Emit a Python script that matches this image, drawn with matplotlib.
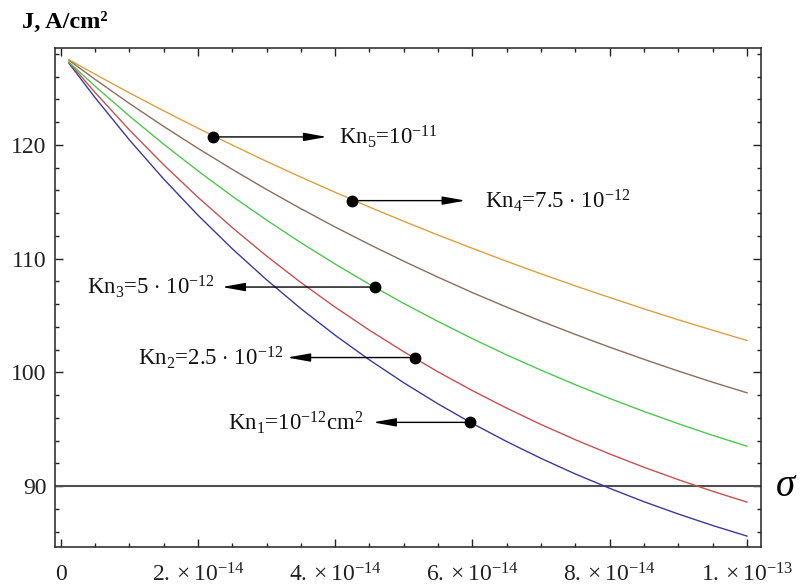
import matplotlib
matplotlib.use("Agg")
import matplotlib.pyplot as plt
from matplotlib.ticker import MultipleLocator

plt.rcParams['font.family'] = ['Liberation Serif', 'DejaVu Serif']
plt.rcParams['mathtext.fontset'] = 'custom'
plt.rcParams['mathtext.rm'] = 'Liberation Serif'
plt.rcParams['mathtext.it'] = 'Liberation Serif:italic'
plt.rcParams['mathtext.bf'] = 'Liberation Serif:bold'

# sigma values in units of 1e-14
sigma = [0.12, 0.5, 1.0, 1.5, 2.0, 2.5, 3.0, 3.5, 4.0, 4.5, 5.0,
         5.5, 6.0, 6.5, 7.0, 7.5, 8.0, 8.5, 9.0, 9.5, 10.0]

J_kn5 = [127.50, 126.22, 124.58, 123.00, 121.47, 119.99, 118.55, 117.17, 115.83, 114.53, 113.28,
         112.07, 110.90, 109.76, 108.66, 107.60, 106.58, 105.58, 104.62, 103.70, 102.80]
J_kn4 = [127.45, 125.77, 123.65, 121.63, 119.70, 117.85, 116.08, 114.39, 112.78, 111.24, 109.77,
         108.36, 107.01, 105.73, 104.50, 103.33, 102.21, 101.14, 100.11, 99.13, 98.20]
J_kn3 = [127.27, 125.17, 122.55, 120.07, 117.72, 115.49, 113.39, 111.40, 109.52, 107.74, 106.06,
         104.47, 102.96, 101.53, 100.19, 98.91, 97.70, 96.56, 95.48, 94.46, 93.50]
J_kn2 = [127.27, 124.62, 121.33, 118.26, 115.40, 112.73, 110.23, 107.90, 105.73, 103.70, 101.81,
         100.04, 98.39, 96.85, 95.41, 94.07, 92.82, 91.65, 90.56, 89.54, 88.59]
J_kn1 = [127.19, 124.17, 120.45, 117.01, 113.82, 110.87, 108.14, 105.60, 103.26, 101.09, 99.08,
         97.22, 95.50, 93.91, 92.43, 91.06, 89.80, 88.62, 87.54, 86.53, 85.60]

curve_colors = ['#3a3a9c', '#c85050', '#4cc84c', '#8c6e5a', '#dca040']

# annotation points (sigma in 1e-14, J) and label text positions (sigma in 1e-14)
dot_sigma = [5.97, 5.16, 4.58, 4.25, 2.22]
dot_J = [95.6, 101.3, 107.5, 115.1, 120.7]
head_sigma = [4.55, 3.30, 2.35, 5.90, 3.88]
label_sigma = [4.42, 3.24, 2.25, 6.18, 4.05]
label_text = [r"Kn$_1$=10$^{-12}$cm$^2$",
              r"Kn$_2$=2.5 $\cdot$ 10$^{-12}$",
              r"Kn$_3$=5 $\cdot$ 10$^{-12}$",
              r"Kn$_4$=7.5 $\cdot$ 10$^{-12}$",
              r"Kn$_5$=10$^{-11}$"]
label_ha = ['right', 'right', 'right', 'left', 'left']

xtick_vals = [0, 2, 4, 6, 8, 10]
xtick_labels = ["0", r"$2.\times10^{-14}$", r"$4.\times10^{-14}$", r"$6.\times10^{-14}$",
                r"$8.\times10^{-14}$", r"$1.\times10^{-13}$"]
ytick_vals = [90, 100, 110, 120]

S = 1e-14

fig = plt.figure(figsize=(8.0, 5.88), dpi=100)
ax = fig.add_axes([55/800, 1-547/588, (761-55)/800, (547-48)/588])

series = [J_kn1, J_kn2, J_kn3, J_kn4, J_kn5]
xs = [s*S for s in sigma]
for J, c in zip(series, curve_colors):
    ax.plot(xs, J, color=c, lw=1.0, zorder=3)

ax.axhline(90, color='#505050', lw=1.5, zorder=2)

for ds, dj, hs, ls, txt, ha in zip(dot_sigma, dot_J, head_sigma, label_sigma, label_text, label_ha):
    ax.plot([ds*S], [dj], 'o', color='black', ms=7.5, zorder=5)
    ax.annotate('', xy=(hs*S, dj), xytext=(ds*S, dj),
                arrowprops=dict(arrowstyle='-|>,head_length=1.4,head_width=0.25',
                                color='black', lw=1.0, shrinkA=0, shrinkB=0), zorder=4)
    ax.text(ls*S, dj, txt, ha=ha, va='center', fontsize=16.5, color='#111111')

ax.set_xlim(-0.082*S, 10.204*S)
ax.set_ylim(84.64, 128.52)
ax.set_xticks([v*S for v in xtick_vals])
ax.set_xticklabels(xtick_labels)
ax.set_yticks(ytick_vals)
ax.xaxis.set_minor_locator(MultipleLocator(0.5*S))
ax.yaxis.set_minor_locator(MultipleLocator(2))
ax.tick_params(which='both', direction='in', top=True, right=True, colors='#222222',
               labelsize=17, width=1.0)
ax.tick_params(which='major', length=5.5)
ax.tick_params(which='minor', length=3)
ax.tick_params(axis='x', pad=12)
ax.tick_params(axis='y', pad=6)
for sp in ax.spines.values():
    sp.set_color('#333333')
    sp.set_linewidth(1.2)

fig.text(22/800, 1-22/588, "J, A/cm²", fontsize=17.5, fontweight='bold', ha='left', va='center')
fig.text(776/800, 1-486/588, "σ", fontsize=28, fontstyle='italic', ha='left', va='center')

fig.savefig("out.png", dpi=100)
